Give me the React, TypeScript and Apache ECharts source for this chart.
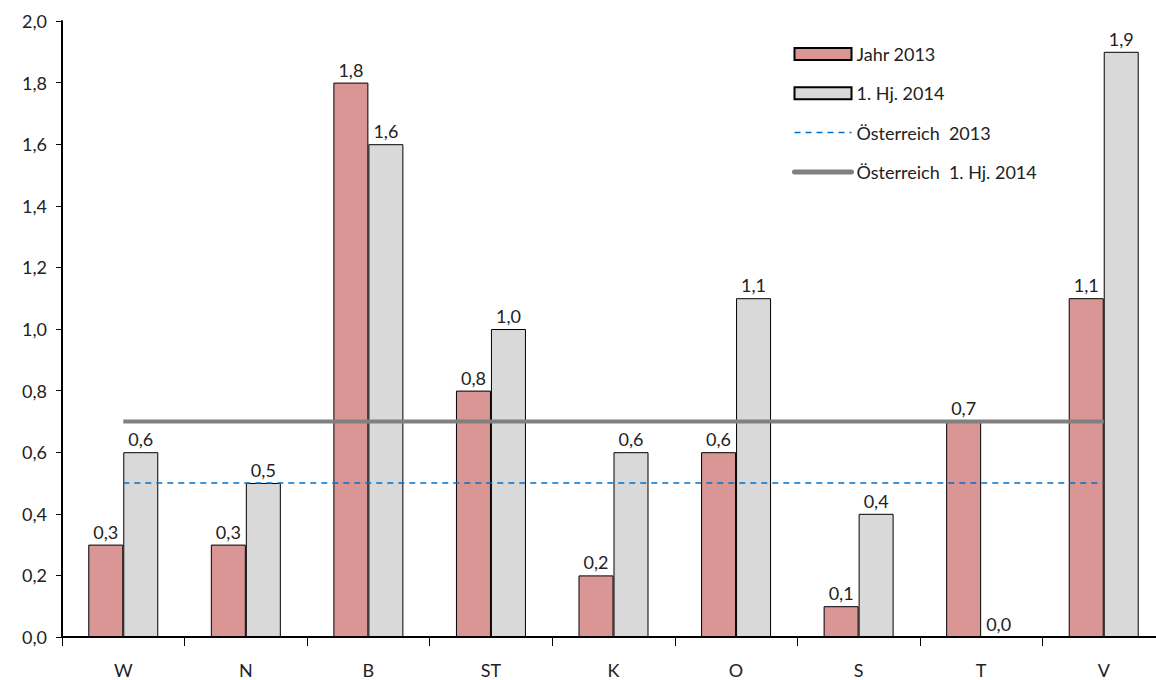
import React, { useEffect, useRef } from "react";
import * as echarts from "echarts";

const categories = ["W", "N", "B", "ST", "K", "O", "S", "T", "V"];
const jahr2013 = [0.3, 0.3, 1.8, 0.8, 0.2, 0.6, 0.1, 0.7, 1.1];
const hj2014 = [0.6, 0.5, 1.6, 1.0, 0.6, 1.1, 0.4, 0.0, 1.9];
const oesterreich2013 = 0.5;
const oesterreichHj2014 = 0.7;

const FONT = "Lato, 'DejaVu Sans', sans-serif";
const fmt = (v: number) => v.toFixed(1).replace(".", ",");

export default function App() {
  const ref = useRef<HTMLDivElement>(null);
  useEffect(() => {
    if (!ref.current) return;
    const chart = echarts.init(ref.current, undefined, { renderer: "svg" });
    const labelStyle = {
      show: true,
      position: "top" as const,
      distance: 4,
      color: "#222",
      fontSize: 18,
      fontFamily: FONT,
      formatter: (p: any) => fmt(p.value),
    };
    const hiddenSymbol = { color: "rgba(0,0,0,0)", borderWidth: 0, opacity: 0 };
    chart.setOption({
      animation: false,
      textStyle: { fontFamily: FONT },
      grid: { left: 62, right: 0, top: 21, bottom: 43, containLabel: false },
      legend: {
        orient: "vertical",
        left: 787,
        top: 40,
        itemWidth: 57,
        itemHeight: 12,
        itemGap: 21.3,
        textStyle: { color: "#222", fontSize: 18, fontFamily: FONT },
        data: [
          { name: "Jahr 2013", icon: "rect" },
          { name: "1. Hj. 2014", icon: "rect" },
          { name: "Österreich  2013", itemStyle: hiddenSymbol, lineStyle: { width: 1.5 } },
          {
            name: "Österreich  1. Hj. 2014",
            itemStyle: hiddenSymbol,
            lineStyle: { width: 5, cap: "round" },
          },
        ],
      },
      xAxis: {
        type: "category",
        data: categories,
        boundaryGap: true,
        axisLine: { lineStyle: { color: "#000", width: 2 } },
        axisTick: { show: true, length: 9, lineStyle: { color: "#000", width: 1 } },
        axisLabel: { color: "#222", fontSize: 18, fontFamily: FONT, margin: 24 },
      },
      yAxis: {
        type: "value",
        min: 0,
        max: 2,
        interval: 0.2,
        splitLine: { show: false },
        axisLine: { show: true, lineStyle: { color: "#000", width: 2 } },
        axisTick: { show: true, length: 6, lineStyle: { color: "#000", width: 1 } },
        axisLabel: {
          color: "#222",
          fontSize: 18,
          fontFamily: FONT,
          margin: 15,
          formatter: (v: number) => fmt(v),
        },
      },
      series: [
        {
          name: "Jahr 2013",
          type: "bar",
          data: jahr2013,
          barWidth: 35,
          barGap: "0%",
          itemStyle: { color: "#D99694", borderColor: "#000", borderWidth: 1 },
          label: labelStyle,
        },
        {
          name: "1. Hj. 2014",
          type: "bar",
          data: hj2014,
          barWidth: 35,
          barGap: "0%",
          itemStyle: { color: "#D9D9D9", borderColor: "#000", borderWidth: 1 },
          label: labelStyle,
        },
        {
          name: "Österreich  2013",
          type: "line",
          data: categories.map(() => oesterreich2013),
          symbol: "none",
          lineStyle: { color: "#0070D0", width: 1.5, type: [6, 5] },
          itemStyle: { color: "#0070D0" },
        },
        {
          name: "Österreich  1. Hj. 2014",
          type: "line",
          data: categories.map(() => oesterreichHj2014),
          symbol: "none",
          lineStyle: { color: "#808080", width: 4 },
          itemStyle: { color: "#808080" },
          z: 5,
        },
      ],
    });
    return () => chart.dispose();
  }, []);
  return (
    <div
      style={{
        position: "absolute",
        left: 0,
        top: 0,
        width: 1156,
        height: 680,
        overflow: "hidden",
        background: "#fff",
      }}
    >
      <div ref={ref} style={{ width: 1165, height: 680 }} />
    </div>
  );
}
